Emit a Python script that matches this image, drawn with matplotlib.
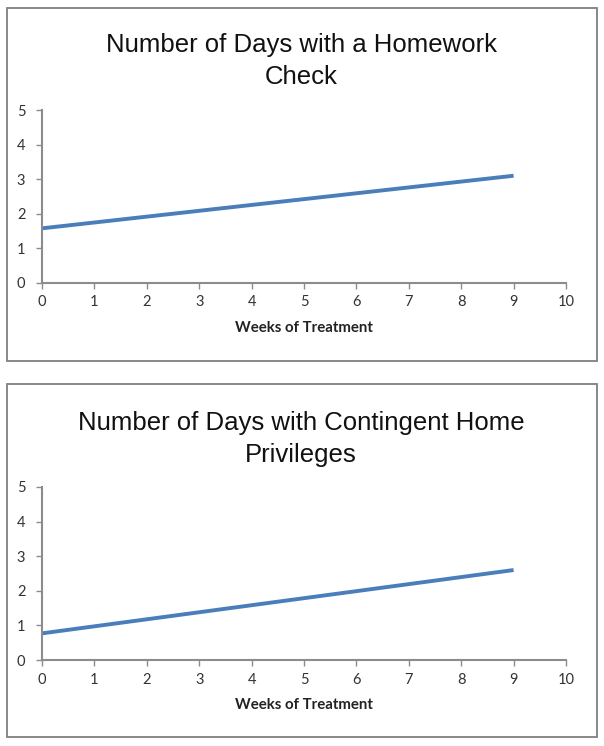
import matplotlib
matplotlib.use("Agg")
import matplotlib.pyplot as plt
from matplotlib.patches import Rectangle

# Data
weeks_hw = [0, 9]
days_hw = [1.58, 3.10]
weeks_priv = [0, 9]
days_priv = [0.77, 2.60]
x_ticks = list(range(0, 11))
y_ticks = list(range(0, 6))
titles = ["Number of Days with a Homework\nCheck",
          "Number of Days with Contingent Home\nPrivileges"]
xlabel = "Weeks of Treatment"

W, H = 604, 746
fig = plt.figure(figsize=(W / 100, H / 100), dpi=100)

def fx(px):
    return px / W

def fy(py):
    return 1 - py / H

axis_col = "#8c8c8c"
line_col = "#4a7ebb"
tick_font = "Lato"
title_font = "Liberation Sans"

panels = [
    dict(box=(7, 8, 597, 361), ax=(42, 110, 566, 283), title_y=33, data=(weeks_hw, days_hw), title=titles[0]),
    dict(box=(7, 384, 597, 737), ax=(42, 487, 566, 660), title_y=411, data=(weeks_priv, days_priv), title=titles[1]),
]

for p in panels:
    bx0, by0, bx1, by1 = p["box"]
    fig.patches.append(Rectangle((fx(bx0), fy(by1)), fx(bx1) - fx(bx0), fy(by0) - fy(by1),
                                 transform=fig.transFigure, fill=False,
                                 edgecolor="#7f7f7f", linewidth=1.3))
    ax0, ay0, ax1, ay1 = p["ax"]
    ax = fig.add_axes([fx(ax0), fy(ay1), fx(ax1) - fx(ax0), fy(ay0) - fy(ay1)])
    xs, ys = p["data"]
    ax.plot(xs, ys, color=line_col, linewidth=2.8, solid_capstyle="butt")
    ax.set_xlim(0, 10)
    ax.set_ylim(0, 5)
    ax.set_xticks(x_ticks)
    ax.set_yticks(y_ticks)
    ax.set_xticklabels([str(t) for t in x_ticks], fontfamily=tick_font, fontsize=10.5, color="#333333")
    ax.set_yticklabels([str(t) for t in y_ticks], fontfamily=tick_font, fontsize=10.5, color="#333333")
    for s in ["top", "right"]:
        ax.spines[s].set_visible(False)
    for s in ["left", "bottom"]:
        ax.spines[s].set_color(axis_col)
        ax.spines[s].set_linewidth(1.5)
    ax.tick_params(axis="both", direction="out", length=4, width=1, color=axis_col)
    ax.tick_params(axis="x", pad=5)
    ax.tick_params(axis="y", pad=8)
    ax.set_xlabel(xlabel, fontfamily=tick_font, fontweight="bold", fontsize=10.8,
                  color="#222222", labelpad=8)
    fig.text(fx(301), fy(p["title_y"]), p["title"], ha="center", va="top",
             fontfamily=title_font, fontsize=18.5, color="#111111", linespacing=1.42)

fig.savefig("out.png", dpi=100)
